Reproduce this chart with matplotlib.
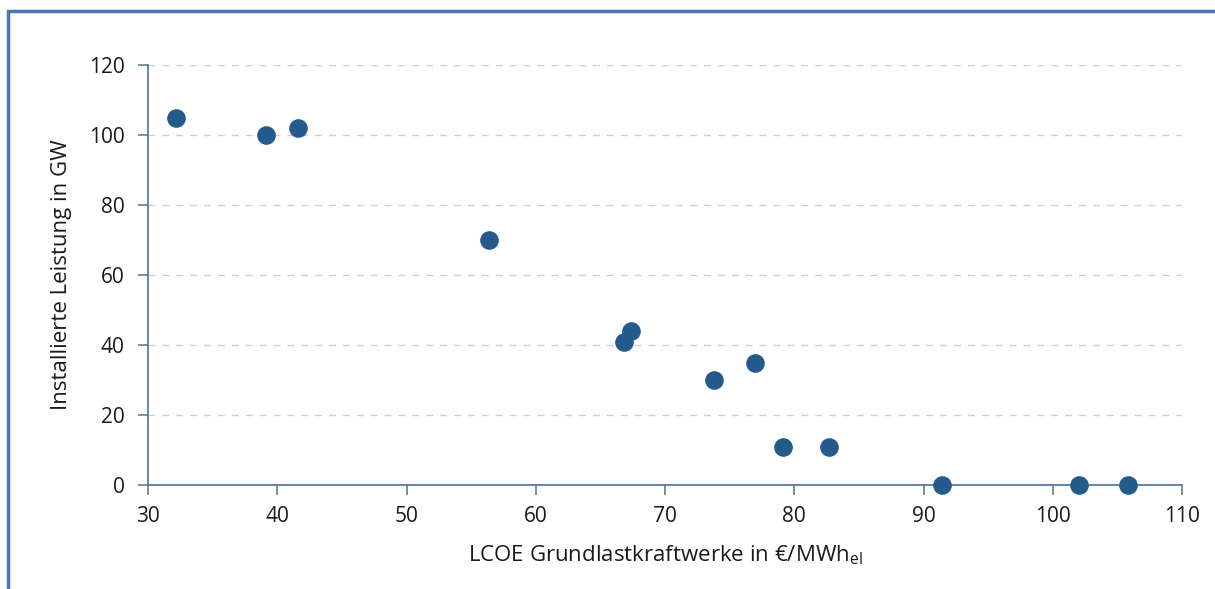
import matplotlib
matplotlib.use("Agg")
import matplotlib.pyplot as plt
from matplotlib.patches import Rectangle

# LCOE of baseload plants (EUR/MWh_el) vs. installed capacity (GW)
lcoe = [32.2, 39.1, 41.6, 56.4, 66.8, 67.4, 73.8, 77.0, 79.1, 82.7, 91.4, 102.0, 105.8]
capacity = [105, 100, 102, 70, 41, 44, 30, 35, 11, 11, 0, 0, 0]

x_ticks = [30, 40, 50, 60, 70, 80, 90, 100, 110]
y_ticks = [0, 20, 40, 60, 80, 100, 120]

plt.rcParams['font.family'] = ['Open Sans', 'DejaVu Sans']
plt.rcParams['mathtext.default'] = 'regular'

W, H = 1215, 589
fig = plt.figure(figsize=(W / 100, H / 100), dpi=100)
fig.patch.set_facecolor('white')

ax = fig.add_axes([148 / W, 1 - 485 / H, (1182 - 148) / W, (485 - 65) / H])

spine_col = '#5b7aa6'
marker_col = '#255a8c'

ax.scatter(lcoe, capacity, s=180, color=marker_col, zorder=3, clip_on=False,
           linewidths=0)

ax.set_xlim(30, 110)
ax.set_ylim(0, 120)
ax.set_xticks(x_ticks)
ax.set_yticks(y_ticks)
ax.tick_params(axis='both', labelsize=15, colors=spine_col, labelcolor='#1a1a1a',
               length=7, width=1.2, direction='out')
ax.tick_params(axis='x', pad=8)
ax.tick_params(axis='y', pad=10)

for side in ('top', 'right'):
    ax.spines[side].set_visible(False)
for side in ('left', 'bottom'):
    ax.spines[side].set_color(spine_col)
    ax.spines[side].set_linewidth(1.3)

ax.yaxis.grid(True, linestyle=(0, (5, 5)), color='#cfcfcf', linewidth=1.0)
ax.set_axisbelow(True)

ax.set_xlabel('LCOE Grundlastkraftwerke in €/MWh$_{el}$', fontsize=16,
              color='#1a1a1a', labelpad=12)
ax.set_ylabel('Installierte Leistung in GW', fontsize=16, color='#1a1a1a',
              labelpad=12)

# blue frame around the figure
fig.patches.append(Rectangle((8 / W, -0.05), 1.2, 1 - 11 / H + 0.05,
                             transform=fig.transFigure, fill=False,
                             edgecolor='#4a76b4', linewidth=2.5, zorder=10))

fig.savefig('out.png', dpi=100)
